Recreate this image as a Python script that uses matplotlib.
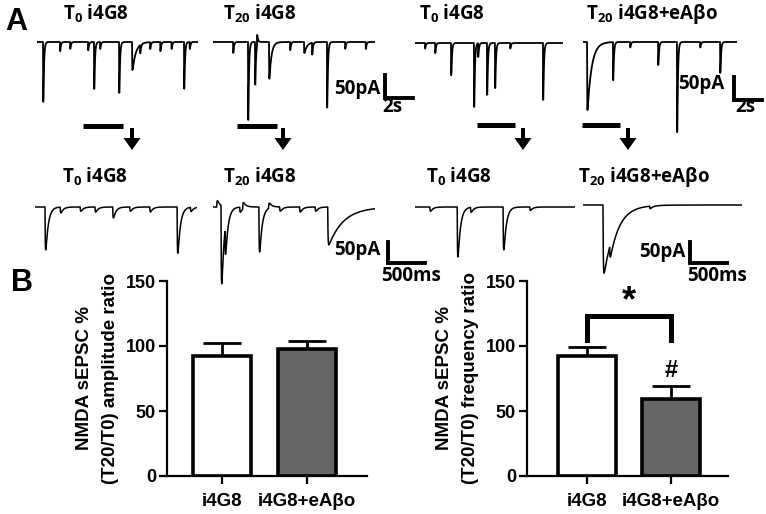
import numpy as np
import matplotlib.pyplot as plt

W, H = 766, 514

plt.rcParams["font.family"] = ["Liberation Sans", "DejaVu Sans"]
plt.rcParams["font.weight"] = "bold"
plt.rcParams["mathtext.fontset"] = "custom"
plt.rcParams["mathtext.rm"] = "Open Sans:bold"
plt.rcParams["mathtext.default"] = "rm"

# ---- panel B data ----
groups = ["i4G8", "i4G8+eAβo"]
amp_mean = [92, 98]
amp_sem = [10, 6]
freq_mean = [92, 59]
freq_sem = [7, 10]

# ---- panel A traces: sEPSC events as (onset s, peak pA[, decay s]) ----
# negative peak = upward blip
t0_ctrl_long = [(0.43, 130), (1.64, 20), (2.36, 15), (3.64, 18), (4.07, 102),
                (4.5, 15), (5.86, 111), (6.79, 61, 0.25), (7.36, 18), (8.07, 15),
                (8.8, 20), (9.6, 15), (10.5, 102), (10.9, 15)]
t20_ctrl_long = [(1.43, 24), (2.5, 170), (3.0, 93), (3.14, -22), (4.0, 80, 0.15),
                 (5.5, 18), (6.5, 24, 0.2), (7.07, 26), (8.14, 143), (9.43, 15),
                 (10.9, 15)]
t0_abo_long = [(0.71, 12), (1.43, 22), (2.57, 70), (4.21, 139), (4.5, 30),
               (5.14, 113), (5.71, 98), (6.79, 12), (9.14, 124)]
t20_abo_long = [(0.29, 148, 0.3), (2.14, 83), (3.36, 12), (5.36, 50),
                (6.71, 196), (8.36, 12), (9.79, 67)]

t0_ctrl_zoom = [(0.135, 102), (0.34, 14), (0.61, 10), (0.81, 12), (1.05, 26),
                (1.28, 10), (1.55, 12), (1.92, 110), (2.1, 10)]
t20_ctrl_zoom = [(0.05, -15), (0.108, 186), (0.162, 67), (0.36, 12), (0.4, -15),
                 (0.62, 107), (0.75, -12), (0.9, 10), (1.17, 12), (1.38, 10),
                 (1.55, 90, 0.2)]
t0_abo_zoom = [(0.2, 10), (0.57, 119), (0.75, 12), (1.19, 102), (1.55, 8)]
t20_abo_zoom = [(0.27, 162, 0.15), (0.36, 30, 0.1), (0.9, 6)]

titles_top = [r"T$_{0}$ i4G8", r"T$_{20}$ i4G8", r"T$_{0}$ i4G8", r"T$_{20}$ i4G8+eAβo"]
titles_bottom = titles_top

# sweep lengths (s) and scale-bar sizes
long_dur = [11.5, 11.6, 10.6, 11.0]
zoom_dur = [2.19, 2.19, 2.16, 2.15]
bar_long_s, bar_zoom_s, bar_pa = 2, 0.5, 50

# pixels per unit for each row
S1, P1 = 2 / 28, 50 / 23
S2, P2 = 0.5 / 37, 50 / 21


def build_trace(dur, events, dt, tau_r, tau_d):
    t = np.arange(0, dur, dt)
    y = np.zeros_like(t)
    for ev in events:
        on, amp = ev[0], ev[1]
        td = ev[2] if len(ev) > 2 else tau_d
        grid = np.linspace(0, 6 * td, 3000)
        norm = (np.exp(-grid / td) - np.exp(-grid / tau_r)).max()
        x = t - on
        m = x > 0
        y[m] -= amp * (np.exp(-x[m] / td) - np.exp(-x[m] / tau_r)) / norm
    return t, y


fig = plt.figure(figsize=(W / 100, H / 100), dpi=100)
ov = fig.add_axes([0, 0, 1, 1])
ov.set_xlim(0, W)
ov.set_ylim(H, 0)
ov.axis("off")


def trace_axes(x0, base_y, dur, s_px, pa_px, top, bottom):
    w = dur / s_px
    ax = fig.add_axes([x0 / W, 1 - bottom / H, w / W, (bottom - top) / H])
    ax.set_xlim(0, dur)
    ax.set_ylim(-(bottom - base_y) * pa_px, (base_y - top) * pa_px)
    ax.axis("off")
    return ax


long_events = [t0_ctrl_long, t20_ctrl_long, t0_abo_long, t20_abo_long]
zoom_events = [t0_ctrl_zoom, t20_ctrl_zoom, t0_abo_zoom, t20_abo_zoom]
long_x0 = [37, 213, 415, 583]
long_base = [42, 42, 43, 42]
zoom_x0 = [35, 213, 415, 583]
zoom_base = [207, 207, 207, 205]

long_axes, zoom_axes = [], []
for i in range(4):
    ax = trace_axes(long_x0[i], long_base[i], long_dur[i], S1, P1, 25, 150)
    t, y = build_trace(long_dur[i], long_events[i], 0.004, 0.008, 0.05)
    ax.plot(t, y, color="k", lw=1.3)
    long_axes.append(ax)

    ax = trace_axes(zoom_x0[i], zoom_base[i], zoom_dur[i], S2, P2, 190, 300)
    t, y = build_trace(zoom_dur[i], zoom_events[i], 0.001, 0.004, 0.035)
    ax.plot(t, y, color="k", lw=1.1)
    zoom_axes.append(ax)


def scale_bar(ax, x, y, dx, dy):
    ax.plot([x, x, x + dx], [y + dy, y, y], color="k", lw=2.8,
            solid_joinstyle="miter", clip_on=False)


scale_bar(long_axes[1], (385 - 213) * S1, -(98 - 42) * P1, bar_long_s, bar_pa)
scale_bar(long_axes[3], (734 - 583) * S1, -(100 - 42) * P1, bar_long_s, bar_pa)
scale_bar(zoom_axes[1], (388 - 213) * S2, -(263 - 207) * P2, bar_zoom_s, bar_pa)
scale_bar(zoom_axes[3], (690 - 583) * S2, -(263 - 205) * P2, bar_zoom_s, bar_pa)

tfont = dict(family=["Open Sans", "DejaVu Sans"], weight="bold", fontsize=13.5,
             ha="center", va="center")
for x, s in zip([96, 260, 452, 652], titles_top):
    ov.text(x, 14, s, **tfont)
for x, s in zip([95, 260, 459, 644], titles_bottom):
    ov.text(x, 177, s, **tfont)

for x, y in [(357, 89), (701, 84), (357, 250), (662, 252)]:
    ov.text(x, y, "50pA", **tfont)
for x, y in [(392, 107), (745, 107)]:
    ov.text(x, y, f"{bar_long_s}s", **tfont)
for x, y in [(411, 276), (717, 276)]:
    ov.text(x, y, f"{int(bar_zoom_s * 1000)}ms", **tfont)

ov.text(16, 22, "A", fontsize=22, weight="bold", ha="center", va="center")
ov.text(22, 283, "B", fontsize=22, weight="bold", ha="center", va="center")

# zoom-in markers: bar + down arrow
for x0, x1, xa, yb in [(83, 123, 132, 125.5), (237, 277, 283, 125.5),
                       (477, 515, 523, 124.5), (582, 620, 628, 124.5)]:
    ov.plot([x0, x1], [yb, yb], color="k", lw=3.6, solid_capstyle="butt")
    ov.add_patch(plt.matplotlib.patches.FancyArrow(
        xa, 128, 0, 22, width=4, head_width=17, head_length=12,
        length_includes_head=True, color="k", lw=0))


def bar_panel(box, means, sems, ylabel, xlim):
    x0, x1, y0, y1 = box
    ax = fig.add_axes([x0 / W, 1 - y1 / H, (x1 - x0) / W, (y1 - y0) / H])
    xs = np.arange(len(means))
    ax.errorbar(xs, means, yerr=[[0] * len(sems), sems], fmt="none",
                ecolor="k", elinewidth=2, capsize=13.5, capthick=2, zorder=1)
    ax.bar(xs, means, width=0.69, color=["white", "#666666"],
           edgecolor="k", linewidth=2.6, zorder=2)
    ax.set_xlim(*xlim)
    ax.set_ylim(0, 150)
    ax.set_yticks([0, 50, 100, 150])
    ax.set_xticks(xs)
    ax.set_xticklabels(groups)
    for s in ["top", "right"]:
        ax.spines[s].set_visible(False)
    for s in ["left", "bottom"]:
        ax.spines[s].set_linewidth(1.6)
    ax.tick_params(width=1.6, length=6, labelsize=13, pad=2)
    ax.tick_params(axis="x", labelsize=13.5, pad=6)
    ax.set_ylabel(ylabel, fontsize=13.5, weight="bold", linespacing=1.65, labelpad=5)
    ax.patch.set_alpha(0)
    return ax


bar_panel((167, 367, 281, 476), amp_mean, amp_sem,
          "NMDA sEPSC %\n(T20/T0) amplitude ratio", (-0.647, 1.706))
axf = bar_panel((527, 728, 281, 476), freq_mean, freq_sem,
                "NMDA sEPSC %\n(T20/T0) frequency ratio", (-0.714, 1.68))

axf.plot([0, 0, 1, 1], [105, 123, 123, 105], color="k", lw=3.6,
         solid_joinstyle="miter", clip_on=False)
axf.text(0.5, 134, "*", fontsize=26, weight="bold", ha="center", va="center")
axf.text(1, 81, "#", fontsize=17, weight="bold", ha="center", va="center")

fig.savefig("out.png", dpi=100)
